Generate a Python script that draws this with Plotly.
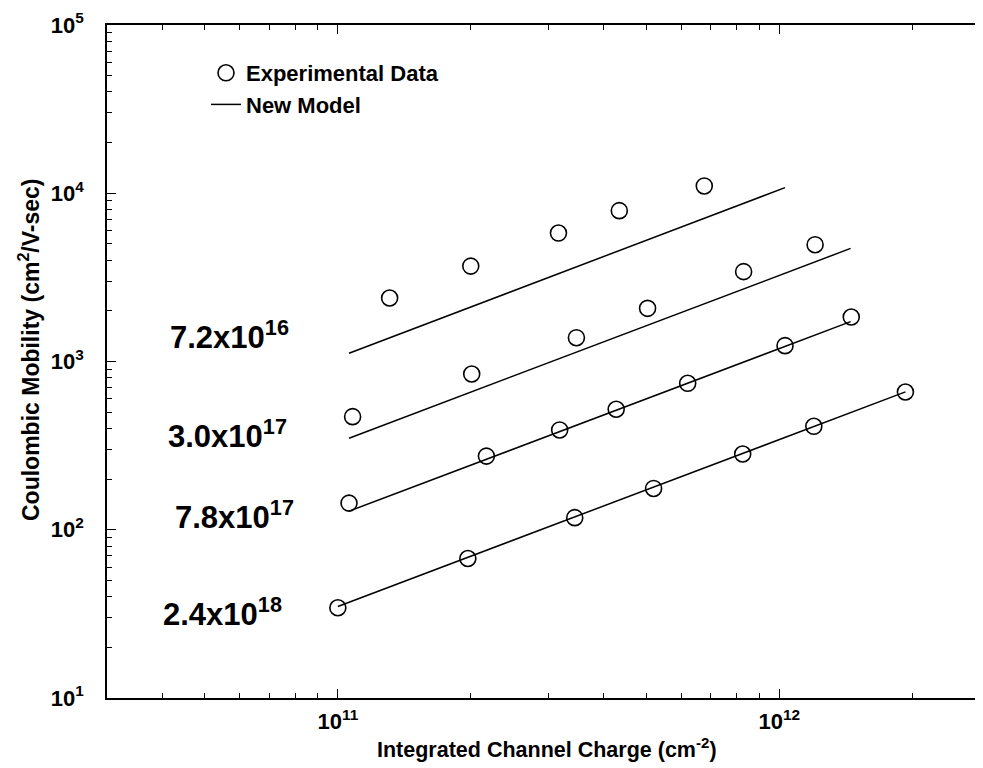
import numpy as np
import plotly.graph_objects as go

# ---- data ----
exp1_x = [1.31e11, 2.0e11, 3.16e11, 4.34e11, 6.76e11]
exp1_y = [2385, 3690, 5800, 7880, 11050]
exp2_x = [1.08e11, 2.01e11, 3.47e11, 5.03e11, 8.3e11, 1.205e12]
exp2_y = [470, 843, 1385, 2070, 3420, 4945]
exp3_x = [1.06e11, 2.17e11, 3.18e11, 4.27e11, 6.2e11, 1.03e12, 1.455e12]
exp3_y = [144, 274, 392, 520, 742, 1242, 1838]
exp4_x = [1.0e11, 1.97e11, 3.44e11, 5.19e11, 8.26e11, 1.197e12, 1.93e12]
exp4_y = [34.4, 67.5, 118, 176, 282, 412, 659]

model1_x = [1.06e11, 1.03e12]
model1_y = [1120, 10800]
model2_x = [1.06e11, 1.45e12]
model2_y = [350, 4700]
model3_x = [1.06e11, 1.45e12]
model3_y = [129, 1725]
model4_x = [1.0e11, 1.93e12]
model4_y = [35, 660]

conc_labels = ["7.2x10<sup>16</sup>", "3.0x10<sup>17</sup>",
               "7.8x10<sup>17</sup>", "2.4x10<sup>18</sup>"]

x_tickvals = [1e11, 1e12]
x_ticktext = ["10<sup>11</sup>", "10<sup>12</sup>"]
y_tickvals = [10, 100, 1000, 10000, 100000]
y_ticktext = ["10<sup>1</sup>", "10<sup>2</sup>", "10<sup>3</sup>", "10<sup>4</sup>", "10<sup>5</sup>"]

x_title = "Integrated Channel Charge (cm<sup>-2</sup>)"
y_title = "Coulombic Mobility (cm<sup>2</sup>/V-sec)"

FONT = "Liberation Sans, Arial, Helvetica, sans-serif"

# page has an 8px body margin; plot area in page pixels: left 107, top 25, bottom 698
ML, MT, MB = 99, 17, 78
PW = 983 - ML
PH = 768 - MT - MB     # 673


def fx(px):
    return (px - 107) / PW


def fy(py):
    return 1 - (py - 25) / PH


fig = go.Figure()

exp_sets = [(exp1_x, exp1_y), (exp2_x, exp2_y), (exp3_x, exp3_y), (exp4_x, exp4_y)]
model_sets = [(model1_x, model1_y), (model2_x, model2_y), (model3_x, model3_y), (model4_x, model4_y)]

for i, (mx, my) in enumerate(model_sets):
    fig.add_trace(go.Scatter(
        x=mx, y=my, mode="lines", name="New Model",
        line=dict(color="black", width=1.5),
        showlegend=(i == 0), legendrank=2, hoverinfo="skip"))

for i, (ex, ey) in enumerate(exp_sets):
    fig.add_trace(go.Scatter(
        x=ex, y=ey, mode="markers", name="Experimental Data",
        marker=dict(symbol="circle-open", size=16, color="black",
                    line=dict(color="black", width=1.6)),
        showlegend=(i == 0), legendrank=1))

# minor tick positions
x_minor = [m * 10.0 ** k for k in (10, 11, 12) for m in range(2, 10)]
y_minor = [m * 10.0 ** k for k in (1, 2, 3, 4) for m in range(2, 10)]

fig.update_xaxes(
    type="log", range=[np.log10(3e10), np.log10(3e10) + PW / 441.5],
    automargin=False,
    showline=True, linecolor="black", linewidth=1.5, mirror="ticks",
    ticks="inside", ticklen=9, tickwidth=1.2, tickcolor="black",
    tickvals=x_tickvals, ticktext=x_ticktext,
    minor=dict(tickvals=x_minor, ticks="inside", ticklen=5, tickwidth=1, tickcolor="black"),
    showgrid=False, zeroline=False,
    tickfont=dict(family=FONT, size=22, color="black", weight="bold"),
    ticklabelstandoff=3,
)
fig.update_yaxes(
    type="log", range=[1, 5],
    automargin=False,
    showline=True, linecolor="black", linewidth=1.5, mirror=False,
    ticks="inside", ticklen=9, tickwidth=1.2, tickcolor="black",
    tickvals=y_tickvals, ticktext=y_ticktext,
    minor=dict(tickvals=y_minor, ticks="inside", ticklen=5, tickwidth=1, tickcolor="black"),
    showgrid=False, zeroline=False,
    tickfont=dict(family=FONT, size=22, color="black", weight="bold"),
    ticklabelstandoff=17,
)

# axis titles as annotations (pixel-placed)
fig.add_annotation(x=fx(547), xref="paper", y=fy(748), yref="paper",
                   text=x_title, showarrow=False, xanchor="center", yanchor="middle",
                   font=dict(family=FONT, size=21.5, color="black", weight="bold"))
fig.add_annotation(x=fx(29), xref="paper", y=fy(350), yref="paper",
                   text=y_title, showarrow=False, xanchor="center", yanchor="middle",
                   textangle=-90,
                   font=dict(family=FONT, size=23, color="black", weight="bold"))

# concentration labels (left x pixel, vertical value)
label_left_px = [168, 166, 173, 161]
label_y = [1437, 371, 122, 32.4]
for txt, lx, ly in zip(conc_labels, label_left_px, label_y):
    fig.add_annotation(
        x=fx(lx), xref="paper", y=np.log10(ly), yref="y",
        text=txt, showarrow=False, xanchor="left", yanchor="middle",
        font=dict(family=FONT, size=31, color="black", weight="bold"))

fig.update_layout(
    width=983, height=768,
    margin=dict(l=ML, r=0, t=MT, b=MB, autoexpand=False),
    paper_bgcolor="white", plot_bgcolor="white",
    showlegend=True,
    legend=dict(x=fx(206), y=fy(52), xanchor="left", yanchor="top",
                bgcolor="rgba(0,0,0,0)", borderwidth=0,
                font=dict(family=FONT, size=22, color="black", weight="bold")),
)

fig.write_html("out.html")
